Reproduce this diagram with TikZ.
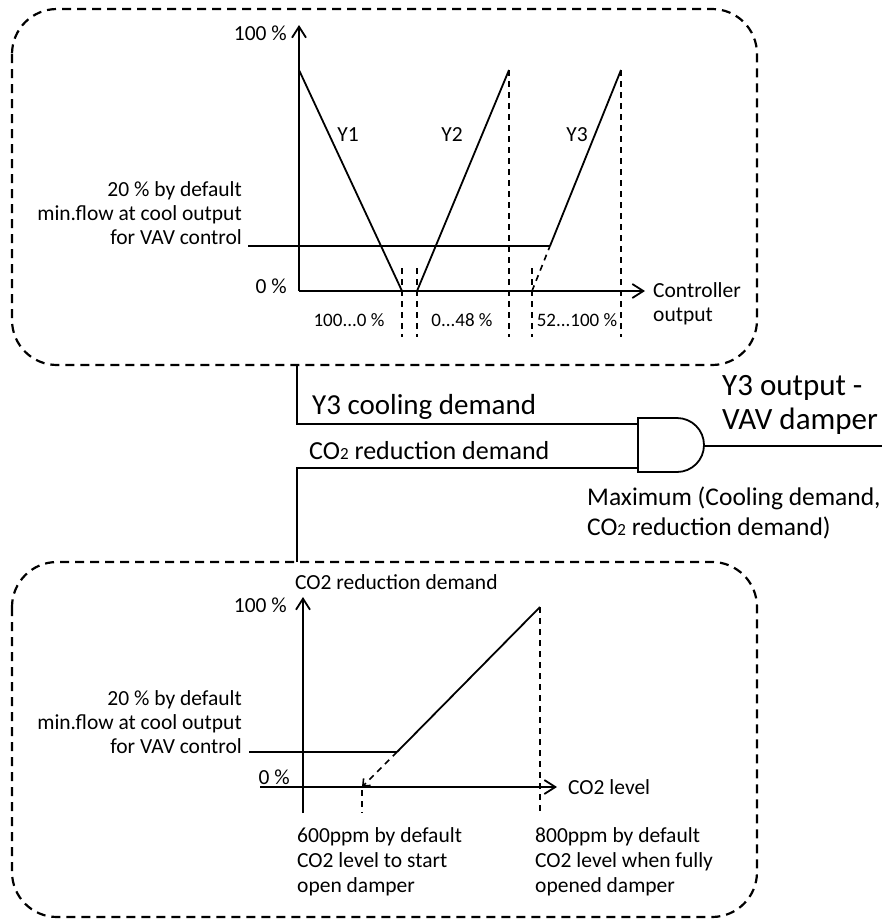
\documentclass[tikz,border=0pt]{standalone}
\usepackage{fontspec}
\setmainfont{Carlito}
\usetikzlibrary{arrows.meta}

\newcommand{\smalltwo}{{\fontsize{17}{17}\selectfont 2}}

\begin{document}
\begin{tikzpicture}[x=1pt, y=-1pt,
    axis/.style={line width=1.8pt, -{Straight Barb[length=11pt, width=14pt, line width=1.8pt]}},
    curve/.style={line width=1.8pt},
    guide/.style={line width=1.6pt, dash pattern=on 6pt off 5pt},
    frame/.style={line width=2.2pt, dash pattern=on 9pt off 6pt, rounded corners=45pt},
    lbl/.style={inner sep=0pt, font=\fontsize{21.5}{24}\selectfont},
    rangelbl/.style={inner sep=0pt, font=\fontsize{19}{22}\selectfont},
    wirelbl/.style={inner sep=0pt, anchor=west, align=left}]

    \useasboundingbox (0, 0) rectangle (892, 919);

    \draw[frame] (12, 9) rectangle (757, 365);
    \draw[frame] (12, 562) rectangle (757, 917);

    \draw[axis] (299, 291) -- (299, 25);
    \draw[axis] (299, 291) -- (645, 291);

    \draw[curve] (248, 246) -- (550, 246);
    \draw[curve] (299, 70) -- (402, 291);
    \draw[curve] (417, 291) -- (509, 70);
    \draw[curve] (550, 246) -- (621, 70);
    \draw[guide] (532, 291) -- (550, 246);

    \draw[guide] (402, 268) -- (402, 337);
    \draw[guide] (417, 268) -- (417, 337);
    \draw[guide] (509, 70) -- (509, 337);
    \draw[guide] (532, 268) -- (532, 337);
    \draw[guide] (621, 70) -- (621, 337);

    \node[lbl, anchor=east] (tophund) at (287, 33) {100 \%};
    \node[lbl, anchor=east] (topzero) at (287, 286) {0 \%};
    \node[lbl, anchor=east, align=right] (topmin) at (242, 213) {20 \% by default\\min.flow at cool output\\for VAV control};
    \node[lbl] (yone) at (348, 135) {Y1};
    \node[lbl] (ytwo) at (452, 135) {Y2};
    \node[lbl] (ythree) at (577, 135) {Y3};
    \node[rangelbl] (rangeone) at (349, 320) {100...0 \%};
    \node[rangelbl] (rangetwo) at (462, 320) {0...48 \%};
    \node[rangelbl] (rangethree) at (577, 320) {52...100 \%};
    \node[lbl, anchor=west, align=left] (ctrl) at (653, 304) {Controller\\output};

    \coordinate (topout) at (297, 365);
    \coordinate (botin) at (297, 562);
    \coordinate (gateone) at (638, 424);
    \coordinate (gatetwo) at (638, 468);
    \coordinate (gateout) at (704, 446);
    \coordinate (damper) at (882, 446);

    \draw[curve] (638, 418) -- (677, 418) arc (-90:90:27) -- (638, 472) -- cycle;
    \draw[curve] (topout) |- (gateone);
    \draw[curve] (botin) |- (gatetwo);
    \draw[curve] (gateout) -- (damper);

    \node[wirelbl, font=\fontsize{29}{32}\selectfont] (cooling) at (312, 407) {Y3 cooling demand};
    \node[wirelbl, font=\fontsize{26}{30}\selectfont] (codemand) at (309, 451) {CO\smalltwo{} reduction demand};
    \node[wirelbl, font=\fontsize{31}{34}\selectfont] (output) at (722, 405) {Y3 output -\\VAV damper};
    \node[wirelbl, font=\fontsize{25.5}{30}\selectfont] (maximum) at (587, 513) {Maximum (Cooling demand,\\CO\smalltwo{} reduction demand)};

    \draw[axis] (303, 813) -- (303, 597);
    \draw[axis] (260, 787) -- (557, 787);

    \draw[curve] (249, 752) -- (397, 752);
    \draw[curve] (397, 752) -- (540, 607);
    \draw[guide, -{Straight Barb[length=6pt, width=10pt, line width=1.6pt]}] (397, 752) -- (362, 787);
    \draw[guide] (362, 790) -- (362, 813);
    \draw[guide] (540, 607) -- (540, 813);

    \node[lbl, anchor=west] (botname) at (295, 582) {CO2 reduction demand};
    \node[lbl, anchor=east] (bothund) at (287, 605) {100 \%};
    \node[lbl, anchor=east] (botzero) at (290, 777) {0 \%};
    \node[lbl, anchor=east, align=right] (botmin) at (242, 722) {20 \% by default\\min.flow at cool output\\for VAV control};
    \node[lbl, anchor=west] (level) at (568, 787) {CO2 level};
    \node[lbl, anchor=west, align=left, font=\fontsize{21.5}{25}\selectfont] (startppm) at (297, 862) {600ppm by default\\CO2 level to start\\open damper};
    \node[lbl, anchor=west, align=left, font=\fontsize{21.5}{25}\selectfont] (fullppm) at (535, 862) {800ppm by default\\CO2 level when fully\\opened damper};

\end{tikzpicture}
\end{document}
